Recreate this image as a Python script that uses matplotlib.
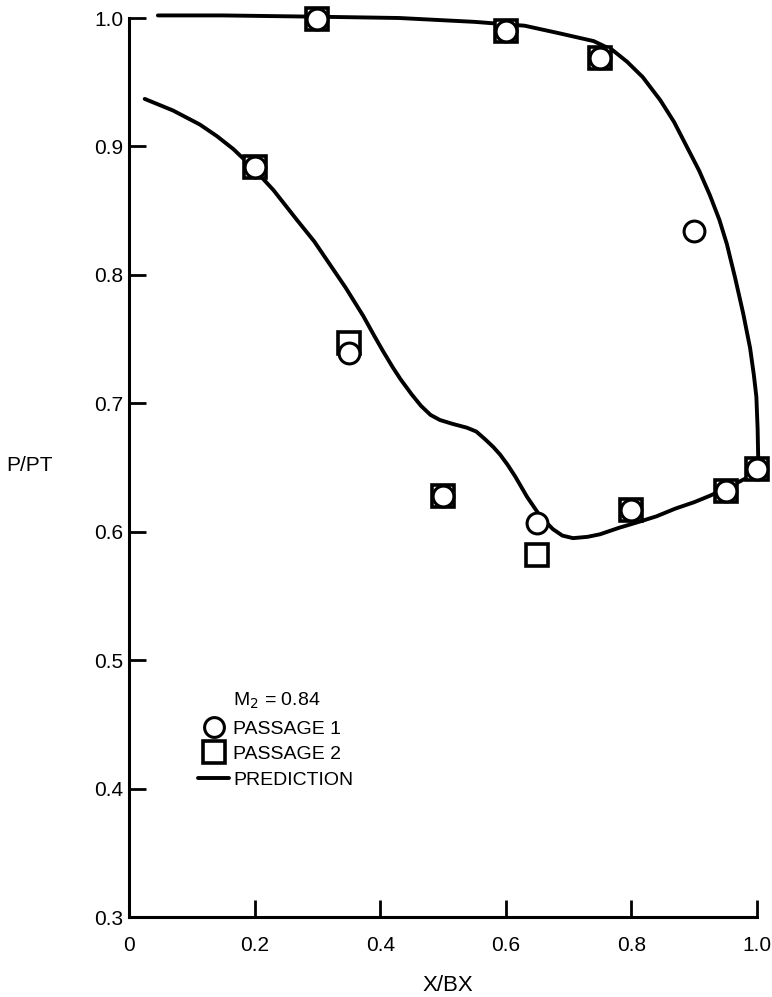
import matplotlib
matplotlib.use("Agg")
from matplotlib import pyplot as plt

plt.rcParams['font.family'] = ['Liberation Sans', 'DejaVu Sans']

# measured points, passage 1 (circles) and passage 2 (squares)
p1_x = [0.2, 0.3, 0.35, 0.5, 0.6, 0.65, 0.75, 0.8, 0.9, 0.95, 1.0]
p1_y = [0.884, 0.999, 0.739, 0.628, 0.990, 0.607, 0.969, 0.617, 0.834, 0.632, 0.649]
p2_x = [0.2, 0.3, 0.35, 0.5, 0.6, 0.65, 0.75, 0.8, 0.95, 1.0]
p2_y = [0.884, 0.999, 0.747, 0.628, 0.990, 0.582, 0.969, 0.617, 0.632, 0.649]

# prediction, upper and lower branch
upper_x = [0.046, 0.15, 0.30, 0.43, 0.55, 0.63, 0.686, 0.74, 0.77, 0.793, 0.818,
           0.846, 0.868, 0.888, 0.908, 0.925, 0.94, 0.952, 0.965, 0.978, 0.989,
           0.995, 0.999, 1.001, 1.002]
upper_y = [1.002, 1.002, 1.001, 1.0, 0.997, 0.994, 0.988, 0.982, 0.975, 0.966, 0.954,
           0.936, 0.919, 0.900, 0.881, 0.862, 0.843, 0.824, 0.798, 0.770, 0.743,
           0.722, 0.705, 0.680, 0.655]
lower_x = [0.025, 0.07, 0.113, 0.14, 0.166, 0.196, 0.23, 0.267, 0.295, 0.32, 0.345,
           0.373, 0.39, 0.404, 0.42, 0.432, 0.45, 0.465, 0.48, 0.495, 0.515, 0.538,
           0.553, 0.567, 0.58, 0.591, 0.603, 0.615, 0.634, 0.655, 0.675, 0.69, 0.707,
           0.73, 0.75, 0.78, 0.814, 0.84, 0.87, 0.9, 0.925, 0.96, 0.984, 1.002]
lower_y = [0.937, 0.928, 0.917, 0.908, 0.898, 0.884, 0.866, 0.843, 0.826, 0.808, 0.790,
           0.768, 0.753, 0.741, 0.728, 0.719, 0.707, 0.698, 0.691, 0.687, 0.684, 0.681,
           0.678, 0.672, 0.666, 0.660, 0.652, 0.643, 0.627, 0.612, 0.602, 0.597, 0.595,
           0.596, 0.598, 0.603, 0.608, 0.612, 0.618, 0.623, 0.628, 0.636, 0.642, 0.655]

x_ticks = [0, 0.2, 0.4, 0.6, 0.8, 1.0]
x_tick_labels = ['0', '0.2', '0.4', '0.6', '0.8', '1.0']
y_ticks = [0.3, 0.4, 0.5, 0.6, 0.7, 0.8, 0.9, 1.0]

fig = plt.figure(figsize=(7.72, 9.97), dpi=100)
ax = fig.add_axes([129 / 772, 80 / 997, 628 / 772, 899 / 997])

ax.plot(upper_x, upper_y, color='black', lw=2.8, solid_capstyle='round',
        solid_joinstyle='round', zorder=2, clip_on=False)
line, = ax.plot(lower_x, lower_y, color='black', lw=2.8, solid_capstyle='round',
                solid_joinstyle='round', zorder=2, clip_on=False, label='PREDICTION')
sq, = ax.plot(p2_x, p2_y, 's', ms=16, mfc='white', mec='black', mew=2.6,
              zorder=3, clip_on=False, label='PASSAGE 2')
ci, = ax.plot(p1_x, p1_y, 'o', ms=15, mfc='white', mec='black', mew=2.2,
              zorder=4, clip_on=False, label='PASSAGE 1')

ax.set_xlim(0, 1.0)
ax.set_ylim(0.3, 1.0)
ax.set_xticks(x_ticks)
ax.set_xticklabels(x_tick_labels)
ax.set_yticks(y_ticks)
ax.tick_params(axis='both', direction='in', length=12, width=2, labelsize=15)
ax.tick_params(axis='x', pad=14)
ax.tick_params(axis='y', pad=4)
for side in ['top', 'right']:
    ax.spines[side].set_visible(False)
for side in ['left', 'bottom']:
    ax.spines[side].set_linewidth(2.2)

ax.set_xlabel('X/BX', fontsize=16)
ax.xaxis.set_label_coords(0.508, -0.064)
ax.set_ylabel('P/PT', fontsize=15, rotation=0, ha='center', va='center')
ax.yaxis.set_label_coords(-0.158, 0.502)

ax.text(0.165, 0.240, 'M$_2$ = 0.84', transform=ax.transAxes, fontsize=14,
        ha='left', va='center')
ax.legend([ci, sq, line], ['PASSAGE 1', 'PASSAGE 2', 'PREDICTION'],
          loc='upper left', bbox_to_anchor=(0.11, 0.219), frameon=False,
          fontsize=14, handlelength=1.6, handletextpad=0.2, labelspacing=0.4,
          borderpad=0, borderaxespad=0, markerscale=0.95)

fig.savefig('out.png', dpi=100)
